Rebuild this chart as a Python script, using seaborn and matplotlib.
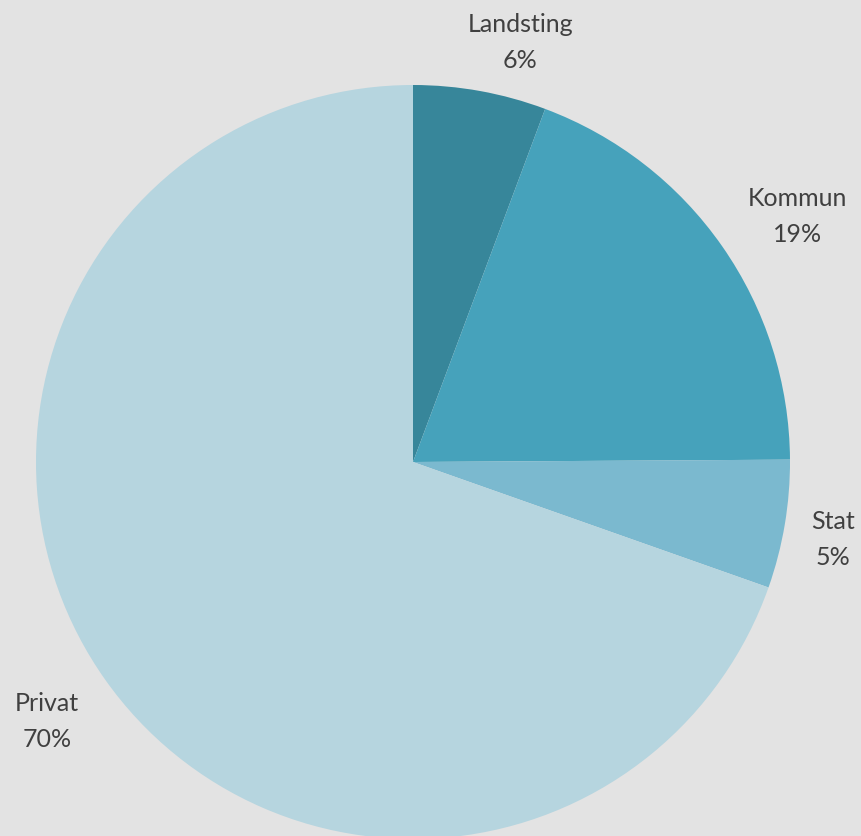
import matplotlib
matplotlib.use("Agg")
import matplotlib.pyplot as plt
import seaborn as sns

sns.set_style("white")
plt.rcParams['font.family'] = ['Lato', 'DejaVu Sans']

# data
categories = ['Landsting', 'Kommun', 'Stat', 'Privat']
shares = [5.7, 19.2, 5.5, 69.6]
pct_labels = ['6%', '19%', '5%', '70%']

colors = ['#37869a', '#46a2bb', '#7bb9cf', '#b6d5df']
bg = '#e3e3e3'

# label positions in pie units (radius = 1)
label_pos = [(0.284, 1.113), (1.021, 0.651), (1.114, -0.206), (-0.971, -0.688)]

W, H = 861, 836
fig = plt.figure(figsize=(W / 100, H / 100), dpi=100, facecolor=bg)
cx, cy, r = 413, 462, 377
ax = fig.add_axes([(cx - r) / W, (H - cy - r) / H, 2 * r / W, 2 * r / H])
ax.set_facecolor(bg)

ax.pie(shares, colors=colors, startangle=90, counterclock=False, radius=1,
       wedgeprops=dict(linewidth=0))
ax.set_xlim(-1, 1)
ax.set_ylim(-1, 1)
ax.set_aspect('equal')
ax.axis('off')

for (x, y), name, pct in zip(label_pos, categories, pct_labels):
    ax.text(x, y, f"{name}\n{pct}", ha='center', va='center', fontsize=18,
            color='#404040', linespacing=1.65, clip_on=False)

fig.savefig("out.png", dpi=100, facecolor=bg)
